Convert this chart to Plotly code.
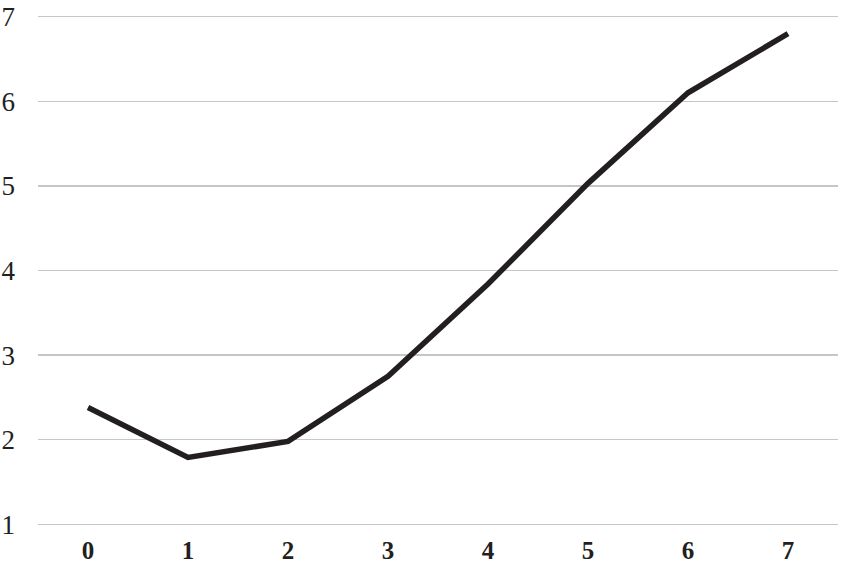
import plotly.graph_objects as go

categories = [0, 1, 2, 3, 4, 5, 6, 7]
values = [2.38, 1.79, 1.98, 2.75, 3.84, 5.03, 6.10, 6.80]
y_ticks = [1, 2, 3, 4, 5, 6, 7]

fig = go.Figure(go.Scatter(
    x=categories, y=values, mode="lines",
    line=dict(color="#231f20", width=5.5),
    hoverinfo="skip",
))

yfont = dict(family="Liberation Serif", size=27, color="#231f20")
xfont = dict(family="Liberation Serif", size=25, color="#231f20", weight="bold")

fig.update_layout(
    width=842, height=567,
    margin=dict(l=38, r=4, t=15, b=41),
    paper_bgcolor="white", plot_bgcolor="white",
    showlegend=False,
    font=yfont,
    xaxis=dict(
        range=[-0.5, 7.5], tickvals=categories, ticktext=[str(c) for c in categories],
        showgrid=False, zeroline=False, showline=False, ticks="",
        ticklabelstandoff=7, tickfont=xfont, automargin=False,
    ),
    yaxis=dict(
        range=[0.98, 7.02], tickvals=y_ticks, ticktext=[str(v) for v in y_ticks],
        showgrid=True, gridcolor="#c6c6c6", gridwidth=1.5,
        zeroline=False, showline=False, ticks="",
        ticklabelstandoff=22, tickfont=yfont, automargin=False,
    ),
)

fig.write_html(
    "out.html",
    config={"displayModeBar": False, "staticPlot": True},
    post_script="document.body.style.margin='0';document.body.style.padding='0';",
)
